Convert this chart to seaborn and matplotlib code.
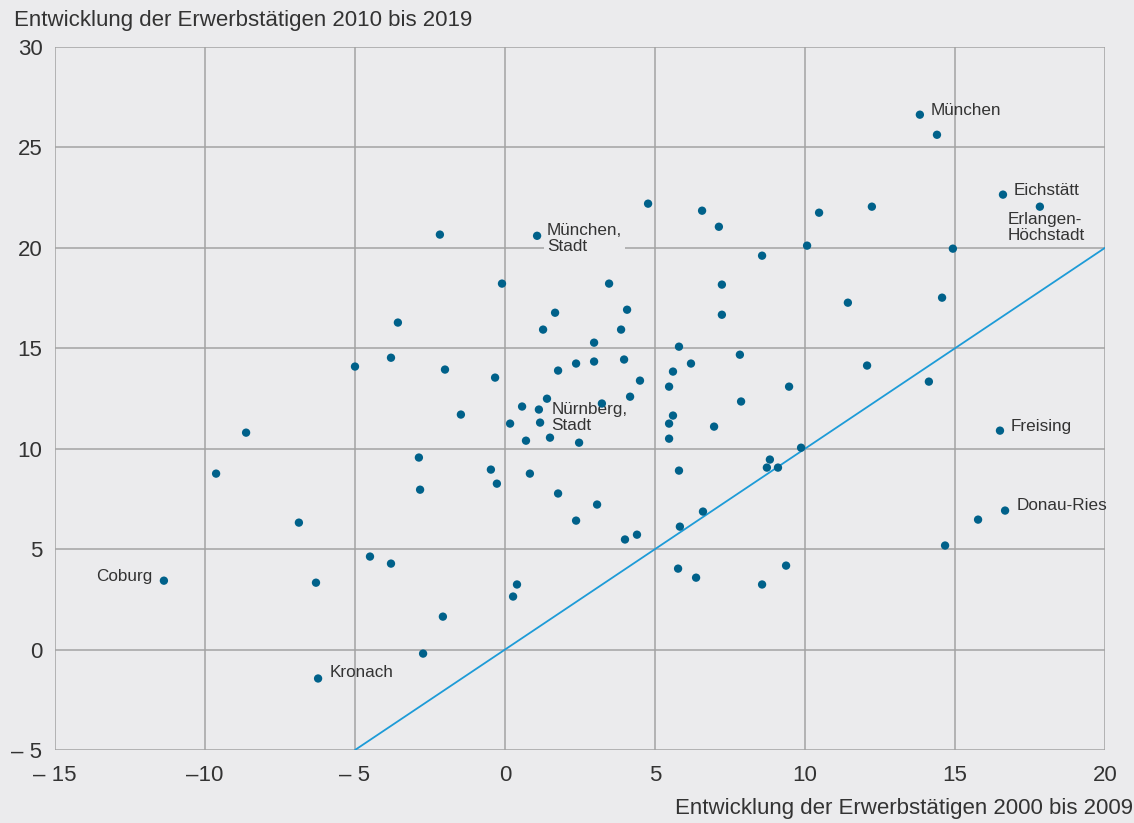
import matplotlib.pyplot as plt
import numpy as np
import pandas as pd
import seaborn as sns

# Entwicklung der Erwerbstätigen in Prozent, je Kreis
x_2000_2009 = [
    13.83, 14.4, 16.6, 17.83, 14.93, 4.77, 6.57, 7.13, 12.23, 10.47,
    10.07, 8.57, -2.17, 1.07, 7.23, 7.23, -0.1, 3.47, 1.67, 4.07,
    1.27, 3.87, -3.57, 11.43, 14.57, 2.97, 5.8, 7.83, -3.8, -5.0,
    -2.0, -0.33, 2.37, 2.97, 3.97, 6.2, 1.77, 5.6, 4.5, 5.47,
    12.07, 14.13, 9.47, 1.4, 4.17, 3.23, 7.87, -1.47, 0.57, 1.13,
    1.17, 0.17, 5.6, 5.47, 6.97, 0.7, 1.5, 2.47, 5.47, -8.63,
    16.5, 9.87, -2.87, 8.83, 8.73, 9.1, 5.8, -0.47, 0.83, -0.27,
    -9.63, -2.83, 1.77, 3.07, 6.6, 16.67, 15.77, 14.67, -6.87, 2.37,
    5.83, 4.4, 4.0, -4.5, -3.8, 5.77, 6.37, 9.37, 8.57, -11.37,
    -6.3, 0.4, 0.27, -2.07, -2.73, -6.23,
]
y_2010_2019 = [
    26.63, 25.63, 22.65, 22.05, 19.96, 22.2, 21.85, 21.05, 22.05, 21.75,
    20.11, 19.61, 20.66, 20.6, 18.17, 16.67, 18.22, 18.22, 16.77, 16.92,
    15.93, 15.93, 16.28, 17.27, 17.52, 15.28, 15.08, 14.68, 14.53, 14.09,
    13.94, 13.54, 14.24, 14.34, 14.44, 14.24, 13.89, 13.84, 13.39, 13.09,
    14.14, 13.34, 13.09, 12.49, 12.59, 12.25, 12.35, 11.7, 12.1, 11.95,
    11.3, 11.25, 11.65, 11.25, 11.1, 10.4, 10.55, 10.3, 10.5, 10.8,
    10.9, 10.05, 9.56, 9.46, 9.06, 9.06, 8.91, 8.96, 8.76, 8.26,
    8.76, 7.96, 7.77, 7.22, 6.87, 6.92, 6.47, 5.18, 6.32, 6.42,
    6.12, 5.72, 5.48, 4.63, 4.28, 4.03, 3.58, 4.18, 3.24, 3.43,
    3.33, 3.24, 2.64, 1.64, -0.2, -1.44,
]

# beschriftete Kreise: Name, Index, Versatz (pt), Ausrichtung, Hintergrund
labels = [
    ("München", 0, (8, 3), "left", "center", False),
    ("Eichstätt", 2, (8, 3), "left", "center", False),
    ("Erlangen-\nHöchstadt", 3, (-23, -4), "left", "top", False),
    ("München,\nStadt", 13, (7, -2), "left", "center", True),
    ("Nürnberg,\nStadt", 49, (9, -6), "left", "center", False),
    ("Freising", 60, (8, 3), "left", "center", False),
    ("Donau-Ries", 75, (8, 4), "left", "center", False),
    ("Coburg", 89, (-8, 3), "right", "center", False),
    ("Kronach", 95, (8, 4), "left", "center", False),
]

xticks = [-15, -10, -5, 0, 5, 10, 15, 20]
xticklabels = ["\u2013 15", "\u201310", "\u2013 5", "0", "5", "10", "15", "20"]
yticks = [-5, 0, 5, 10, 15, 20, 25, 30]
yticklabels = ["\u2013 5", "0", "5", "10", "15", "20", "25", "30"]

bg = "#ebebed"
dot = "#00618a"
grid = "#a3a3a3"
txt = "#333333"

sns.set_style("white")
plt.rcParams["font.family"] = ["Liberation Sans", "DejaVu Sans"]

df = pd.DataFrame({"x": x_2000_2009, "y": y_2010_2019})

fig = plt.figure(figsize=(11.34, 8.23), dpi=100, facecolor=bg)
ax = fig.add_axes([0.0485, 0.0887, 0.9259, 0.8542])
ax.set_facecolor(bg)

ax.plot([-5, 20], [-5, 20], color="#1d9bd7", lw=1.3, zorder=2)
sns.scatterplot(data=df, x="x", y="y", color=dot, s=36, edgecolor="none",
                ax=ax, zorder=4)

for name, i, off, ha, va, box in labels:
    t = ax.annotate(name, (x_2000_2009[i], y_2010_2019[i]), xytext=off,
                    textcoords="offset points", ha=ha, va=va, fontsize=12.3,
                    color=txt, linespacing=1.1, zorder=3)
    if box:
        t.set_bbox(dict(boxstyle="square,pad=0.15", fc=bg, ec="none"))

ax.set_xlim(-15, 20)
ax.set_ylim(-5, 30)
ax.set_xticks(xticks)
ax.set_xticklabels(xticklabels)
ax.set_yticks(yticks)
ax.set_yticklabels(yticklabels)
ax.grid(True, color=grid, lw=1.1, zorder=0)
ax.set_axisbelow(True)
for s in ax.spines.values():
    s.set_visible(False)
ax.tick_params(axis="both", length=6, width=1.1, color=grid,
               labelsize=16, labelcolor=txt, pad=5)
ax.tick_params(axis="y", pad=3)
ax.set_xlabel("")
ax.set_ylabel("")

fig.text(0.012, 0.975, "Entwicklung der Erwerbstätigen 2010 bis 2019",
         fontsize=16, color=txt, ha="left", va="center")
fig.text(0.999, 0.018, "Entwicklung der Erwerbstätigen 2000 bis 2009",
         fontsize=16, color=txt, ha="right", va="center")

fig.savefig("out.png", dpi=100, facecolor=bg)
